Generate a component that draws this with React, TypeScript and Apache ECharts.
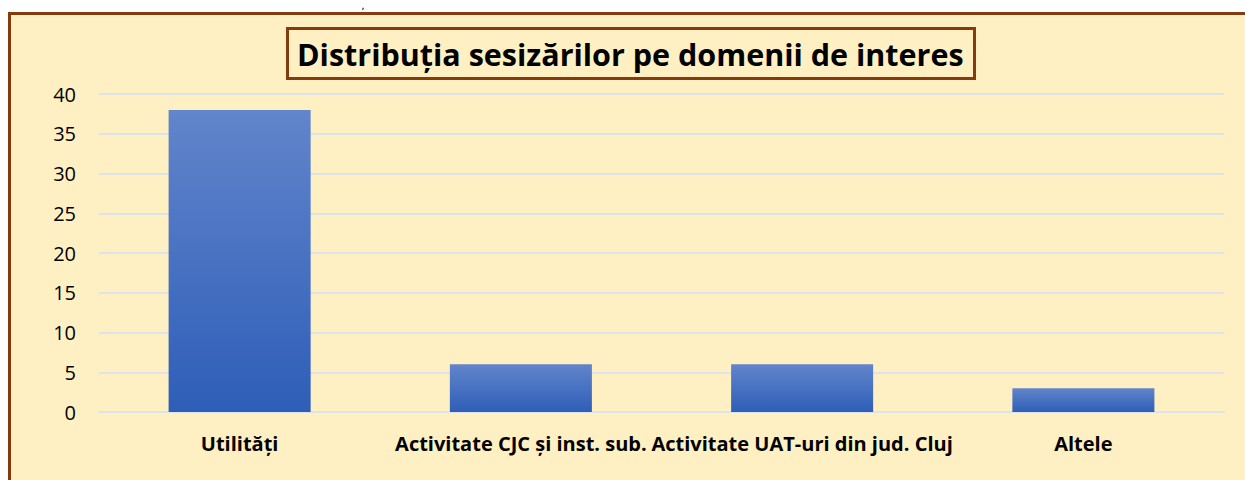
import React, { useEffect, useRef } from "react";
import * as echarts from "echarts";

const categories = [
  "Utilități",
  "Activitate CJC și inst. sub.",
  "Activitate UAT-uri din jud. Cluj",
  "Altele",
];
const values = [38, 6, 6, 3];
const yTicks = { min: 0, max: 40, interval: 5 };
const titleText = "Distribuția sesizărilor pe domenii de interes";

const CREAM = "#FFF0C4";
const BROWN = "#843C0C";

export default function App() {
  const ref = useRef<HTMLDivElement>(null);
  useEffect(() => {
    if (!ref.current) return;
    const chart = echarts.init(ref.current, null, { renderer: "svg" });
    chart.setOption({
      animation: false,
      backgroundColor: CREAM,
      title: {
        text: titleText,
        left: 276,
        top: 13,
        padding: [6, 11, 6, 10],
        backgroundColor: CREAM,
        borderColor: BROWN,
        borderWidth: 3,
        textStyle: {
          fontFamily: "Open Sans",
          fontWeight: "bold",
          fontSize: 30.5,
          lineHeight: 39,
          color: "#000",
        },
      },
      grid: { left: 88, right: 21, top: 79, bottom: 68 },
      xAxis: {
        type: "category",
        data: categories,
        axisLine: { show: true, lineStyle: { color: "#DCE3EB", width: 2 } },
        axisTick: { show: false },
        axisLabel: {
          interval: 0,
          margin: 21,
          fontFamily: "Open Sans",
          fontWeight: "bold",
          fontSize: 20,
          color: "#000",
        },
      },
      yAxis: {
        type: "value",
        min: yTicks.min,
        max: yTicks.max,
        interval: yTicks.interval,
        axisLine: { show: false },
        axisTick: { show: false },
        splitLine: { lineStyle: { color: "#DCE3EB", width: 2 } },
        axisLabel: {
          margin: 23,
          fontFamily: "Open Sans",
          fontSize: 20,
          color: "#000",
        },
      },
      series: [
        {
          type: "bar",
          data: values,
          barWidth: "50.5%",
          itemStyle: {
            color: new echarts.graphic.LinearGradient(0, 0, 0, 1, [
              { offset: 0, color: "#6285CB" },
              { offset: 1, color: "#2E5EB8" },
            ]),
          },
        },
      ],
    });
    return () => chart.dispose();
  }, []);

  return (
    <div>
      <span
        style={{
          position: "fixed",
          left: 362,
          top: 0,
          fontFamily: "Open Sans",
          fontWeight: "bold",
          fontSize: 8,
          color: "#000",
        }}
      >
        ,
      </span>
      <div
        style={{
          position: "fixed",
          left: 8,
          top: 12,
          width: 1234,
          height: 465,
          borderTop: `3px solid ${BROWN}`,
          borderLeft: `3px solid ${BROWN}`,
          background: CREAM,
        }}
      >
        <div ref={ref} style={{ width: 1234, height: 465 }} />
      </div>
    </div>
  );
}
